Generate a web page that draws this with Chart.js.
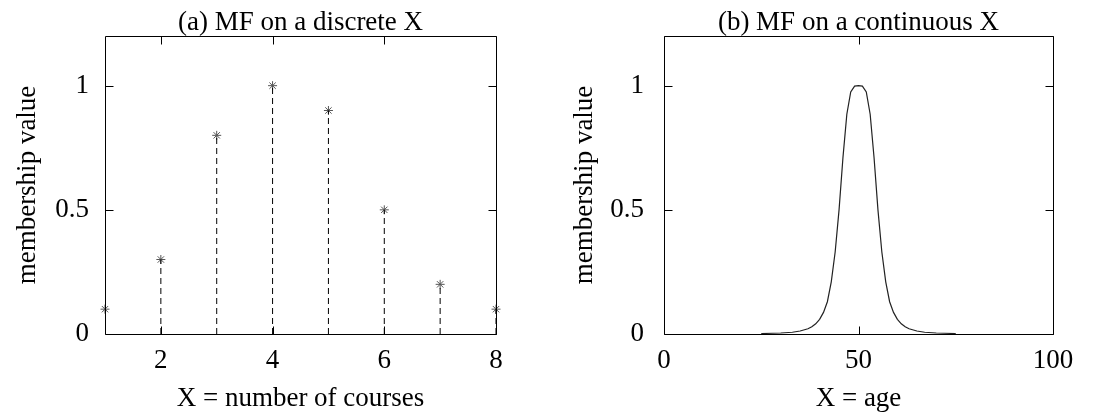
<!DOCTYPE html>
<html>
<head>
<meta charset="utf-8">
<script src="https://cdn.jsdelivr.net/npm/chart.js@4/dist/chart.umd.min.js"></script>
<style>
  html, body { margin: 0; padding: 0; background: #fff; }
  #wrap { position: relative; width: 1102px; height: 412px; }
  .panel { position: absolute; top: 0; width: 551px; height: 412px; }
</style>
</head>
<body>
<div id="wrap">
  <div class="panel" style="left:0"><canvas id="chartA" width="551" height="412"></canvas></div>
  <div class="panel" style="left:551px"><canvas id="chartB" width="551" height="412"></canvas></div>
</div>
<script>
'use strict';

/* ── Data ─────────────────────────────────────────── */

// (a) discrete X: number of courses
var courses    = [1, 2, 3, 4, 5, 6, 7, 8];
var mfDiscrete = [0.1, 0.3, 0.8, 1.0, 0.9, 0.5, 0.2, 0.1];
var coursesTicks = [2, 4, 6, 8];

// (b) continuous X: age
var ages = [25, 28, 30, 33, 35, 37, 38, 39, 40, 41, 42, 43, 44, 45, 46, 47, 48, 49, 50,
            51, 52, 53, 54, 55, 56, 57, 58, 59, 60, 61, 62, 63, 65, 67, 70, 72, 75];
var mfAge = [0.002, 0.003, 0.004, 0.007, 0.012, 0.021, 0.029, 0.041, 0.059, 0.087, 0.13,
             0.21, 0.33, 0.5, 0.71, 0.885, 0.975, 0.998, 1.0,
             0.998, 0.975, 0.885, 0.71, 0.5, 0.33, 0.21, 0.13, 0.087, 0.059, 0.041,
             0.029, 0.021, 0.012, 0.007, 0.004, 0.003, 0.002];
var ageTicks = [0, 50, 100];

var mfTicks = [0, 0.5, 1];

/* ── Helpers ──────────────────────────────────────── */

var SERIF = "'Liberation Serif', 'Times New Roman', serif";
var FS = 27;

function fixTicks(vals) {
  return function (scale) {
    scale.ticks = vals.map(function (v) { return { value: v }; });
  };
}

/* Box round the plot area plus inward tick marks on all four sides */
var framePlugin = {
  id: 'frame',
  afterDraw: function (chart) {
    var ctx = chart.ctx;
    var a = chart.chartArea;
    var l = Math.round(a.left) + 0.5, r = Math.round(a.right) + 0.5;
    var t = Math.round(a.top) + 0.5,  b = Math.round(a.bottom) + 0.5;
    var len = 8;
    ctx.save();
    ctx.strokeStyle = '#000';
    ctx.lineWidth = 1;
    ctx.beginPath();
    ctx.rect(l, t, r - l, b - t);
    chart.scales.x.ticks.forEach(function (tk) {
      var px = Math.round(chart.scales.x.getPixelForValue(tk.value)) + 0.5;
      ctx.moveTo(px, b); ctx.lineTo(px, b - len);
      ctx.moveTo(px, t); ctx.lineTo(px, t + len);
    });
    chart.scales.y.ticks.forEach(function (tk) {
      var py = Math.round(chart.scales.y.getPixelForValue(tk.value)) + 0.5;
      ctx.moveTo(l, py); ctx.lineTo(l + len, py);
      ctx.moveTo(r, py); ctx.lineTo(r - len, py);
    });
    ctx.stroke();
    ctx.restore();
  }
};

function plainLabel(v) { return String(v); }

function baseOptions(o) {
  return {
    responsive: false,
    animation: false,
    layout: { padding: { left: 0, right: o.padRight, top: 0, bottom: 0 } },
    plugins: {
      legend: { display: false },
      tooltip: { enabled: false },
      title: {
        display: true,
        text: o.title,
        fullSize: false,
        color: '#000',
        font: { family: SERIF, size: FS, weight: 'normal', lineHeight: 1 },
        padding: { top: 9, bottom: 0 }
      }
    },
    scales: {
      x: {
        type: 'linear',
        min: o.xMin,
        max: o.xMax,
        afterBuildTicks: fixTicks(o.xTicks),
        afterFit: function (s) { s.height = 78; },
        grid: { display: false },
        border: { display: false },
        ticks: { color: '#000', padding: 3, callback: plainLabel, font: { family: SERIF, size: FS } },
        title: {
          display: true,
          text: o.xLabel,
          color: '#000',
          font: { family: SERIF, size: FS, lineHeight: 1 },
          padding: { top: 0, bottom: 0 }
        }
      },
      y: {
        type: 'linear',
        min: 0,
        max: 1.2,
        afterBuildTicks: fixTicks(mfTicks),
        afterFit: function (s) { s.width = o.yWidth; },
        grid: { display: false },
        border: { display: false },
        ticks: { color: '#000', padding: o.yTickPad, callback: plainLabel, font: { family: SERIF, size: FS } },
        title: {
          display: true,
          text: 'membership value',
          color: '#000',
          font: { family: SERIF, size: FS, lineHeight: 1 },
          padding: { top: o.yTitlePad, bottom: 0 }
        }
      }
    }
  };
}

/* ── (a) MF on a discrete X ───────────────────────── */

var stems = [];
courses.forEach(function (c, i) {
  stems.push({ x: c, y: 0 }, { x: c, y: mfDiscrete[i] }, { x: c, y: null });
});

new Chart(document.getElementById('chartA'), {
  type: 'scatter',
  data: {
    datasets: [
      {
        data: stems,
        showLine: true,
        spanGaps: false,
        borderColor: '#000',
        borderWidth: 1,
        borderDash: [6, 4],
        pointRadius: 0
      },
      {
        data: courses.map(function (c, i) { return { x: c, y: mfDiscrete[i] }; }),
        pointStyle: 'star',
        pointRadius: 4.5,
        borderColor: '#555',
        backgroundColor: '#555',
        pointBorderWidth: 1,
        clip: false
      }
    ]
  },
  options: baseOptions({
    title: '(a) MF on a discrete X',
    xLabel: 'X = number of courses',
    xMin: 1, xMax: 8, xTicks: coursesTicks,
    yWidth: 105, padRight: 55, yTickPad: 8, yTitlePad: 14
  }),
  plugins: [framePlugin]
});

/* ── (b) MF on a continuous X ─────────────────────── */

new Chart(document.getElementById('chartB'), {
  type: 'scatter',
  data: {
    datasets: [{
      data: ages.map(function (a, i) { return { x: a, y: mfAge[i] }; }),
      showLine: true,
      borderColor: '#222',
      borderWidth: 1.2,
      pointRadius: 0,
      tension: 0
    }]
  },
  options: baseOptions({
    title: '(b) MF on a continuous X',
    xLabel: 'X = age',
    xMin: 0, xMax: 100, xTicks: ageTicks,
    yWidth: 113, padRight: 49, yTickPad: 12, yTitlePad: 20
  }),
  plugins: [framePlugin]
});
</script>
</body>
</html>
